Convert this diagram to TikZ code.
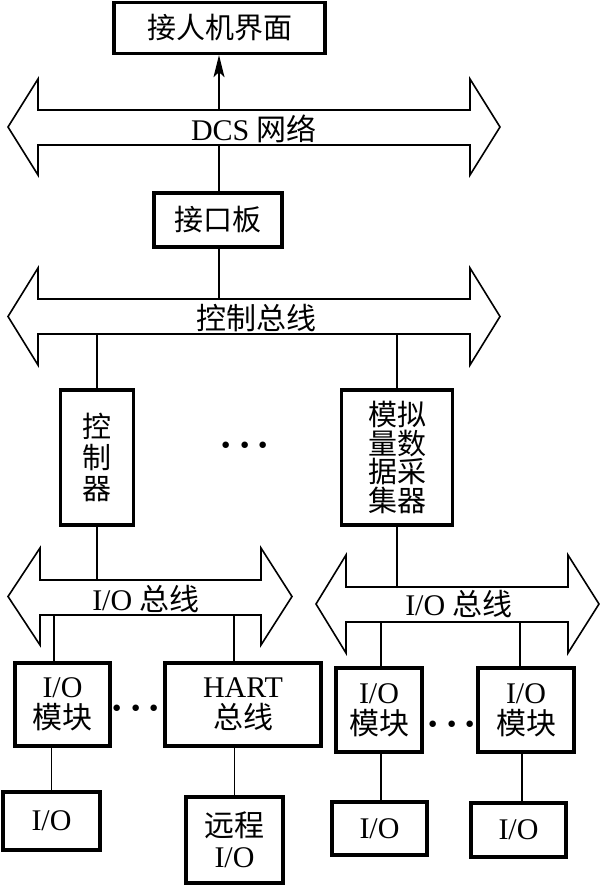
\documentclass[tikz,border=0pt]{standalone}
\usepackage{fontspec}
\setmainfont{Liberation Serif}
\newfontfamily\cjk{Noto Sans CJK SC}
\usetikzlibrary{arrows.meta}
\newcommand\drawbus[8]{\draw[bus] (#1,{(#5+#8)/2}) -- (#2,#5) -- (#2,#6) -- (#3,#6) -- (#3,#5) -- (#4,{(#5+#8)/2}) -- (#3,#8) -- (#3,#7) -- (#2,#7) -- (#2,#8) -- cycle;}
\newcommand\threedots{·\hspace{5pt}·\hspace{5pt}·}
\begin{document}
\begin{tikzpicture}[x=1pt,y=-1pt,
  box/.style={draw,line width=3.3pt,inner sep=0pt,align=center,font=\fontsize{30}{31}\selectfont},
  cjkbox/.style={box,font=\cjk\fontsize{29}{31}\selectfont},
  bus/.style={draw,line width=1.6pt,line join=miter},
  conn/.style={line width=1.6pt},
  lbl/.style={inner sep=0pt,font=\fontsize{30}{31}\selectfont},
  dotsn/.style={inner sep=0pt,font=\fontsize{40}{40}\selectfont\bfseries}]
\useasboundingbox (0,0) rectangle (600,887);

% buses
\drawbus{8}{38}{470}{500}{79}{110}{145}{175}
\drawbus{8}{38}{470}{500}{268}{299}{334}{365}
\drawbus{8}{40}{261}{292}{548}{580}{615}{645}
\drawbus{316}{346}{568}{599}{555}{587}{622}{653}

\node[lbl] (dcsl) at (254,129) {DCS {\cjk 网络}};
\node[lbl] (cbl) at (256,318) {\cjk 控制总线};
\node[lbl] (lbl1) at (146,599) {I/O {\cjk 总线}};
\node[lbl] (lbl2) at (459,604) {I/O {\cjk 总线}};

% bus attachment points
\coordinate (dcsT) at (219,110);
\coordinate (dcsB) at (219,145);
\coordinate (cbT) at (219,299);
\coordinate (cbB1) at (97,334);
\coordinate (cbB2) at (397,334);
\coordinate (lbT) at (97,580);
\coordinate (lbB1) at (54,615);
\coordinate (lbB2) at (234,615);
\coordinate (rbT) at (397,587);
\coordinate (rbB1) at (381,622);
\coordinate (rbB2) at (520,622);

% boxes
\node[cjkbox,minimum width=211pt,minimum height=51pt] (hmi) at (219.5,28) {接人机界面};
\node[cjkbox,minimum width=128pt,minimum height=54pt] (ifb) at (218,220) {接口板};
\node[cjkbox,minimum width=73pt,minimum height=135pt] (ctrl) at (97,457.5) {控\\制\\器};
\node[box,font=\cjk\fontsize{29}{28.5}\selectfont,minimum width=111pt,minimum height=135pt] (adc) at (397,457.5) {模拟\\量数\\据采\\集器};
\node[box,minimum width=95pt,minimum height=83pt] (iom1) at (62.5,704.5) {I/O\\{\cjk 模块}};
\node[box,minimum width=156pt,minimum height=83pt] (hart) at (243,704.5) {HART\\{\cjk 总线}};
\node[box,minimum width=97pt,minimum height=58pt] (io1) at (51.5,821) {I/O};
\node[box,minimum width=97pt,minimum height=86pt] (rio) at (234.5,840) {{\cjk 远程}\\I/O};
\node[box,minimum width=86pt,minimum height=84pt] (iom2) at (379,710) {I/O\\{\cjk 模块}};
\node[box,minimum width=96pt,minimum height=84pt] (iom3) at (526,710) {I/O\\{\cjk 模块}};
\node[box,minimum width=95pt,minimum height=53pt] (io2) at (379.5,828.5) {I/O};
\node[box,minimum width=95pt,minimum height=54pt] (io3) at (518.5,830) {I/O};

% dots
\node[dotsn] (d1) at (245,450) {\threedots};
\node[dotsn] (d2) at (136,713) {\threedots};
\node[dotsn] (d3) at (452,729) {\threedots};

% connectors
\draw[conn,-{Stealth[length=22pt,width=11pt,inset=5pt]}] (dcsT) -- (dcsT |- hmi.south);
\draw[conn] (dcsB) -- (dcsB |- ifb.north);
\draw[conn] (cbT |- ifb.south) -- (cbT);
\draw[conn] (cbB1) -- (cbB1 |- ctrl.north);
\draw[conn] (cbB2) -- (cbB2 |- adc.north);
\draw[conn] (lbT |- ctrl.south) -- (lbT);
\draw[conn] (rbT |- adc.south) -- (rbT);
\draw[conn] (lbB1) -- (lbB1 |- iom1.north);
\draw[conn] (lbB2) -- (lbB2 |- hart.north);
\draw[conn] (rbB1) -- (rbB1 |- iom2.north);
\draw[conn] (rbB2) -- (rbB2 |- iom3.north);
\draw[conn] (io1.north |- iom1.south) -- (io1.north);
\draw[conn] (rio.north |- hart.south) -- (rio.north);
\draw[conn] (rbB1 |- iom2.south) -- (rbB1 |- io2.north);
\draw[conn] (522,0 |- iom3.south) -- (522,0 |- io3.north);
\end{tikzpicture}
\end{document}
